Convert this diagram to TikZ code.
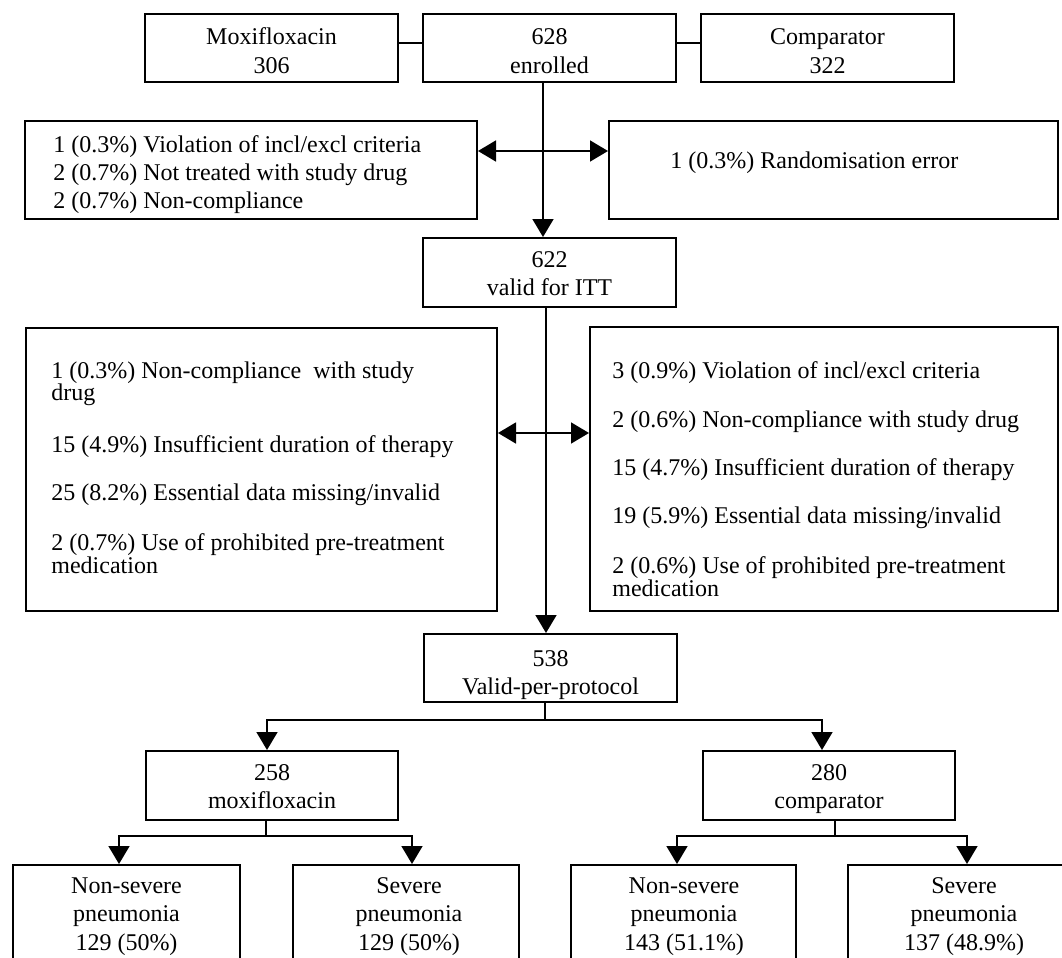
\documentclass[tikz,border=0pt]{standalone}
\usepackage{fontspec}
\setmainfont{Liberation Serif}
\usetikzlibrary{fit,arrows.meta,calc}
\tikzset{
  box/.style={draw, line width=1pt, inner sep=0pt},
  txt/.style={inner sep=0pt, font=\fontsize{12}{14}\selectfont},
  ln/.style={line width=0.8pt},
  arr/.style={line width=0.8pt, -{Triangle[length=9pt,width=10.5pt]}},
  both/.style={line width=0.8pt, {Triangle[length=9pt,width=10.5pt]}-{Triangle[length=9pt,width=10.5pt]}}
}
\begin{document}
\begin{tikzpicture}[x=0.5pt,y=-0.5pt]
\useasboundingbox (0,0) rectangle (1062,958);

% top row
\node[box, fit={(145,14) (398,82)}] (moxi) {};
\node[txt, anchor=base] (moxiA) at (271.5,45) {Moxifloxacin};
\node[txt, anchor=base] (moxiB) at (271.5,73) {306};
\node[box, fit={(423,14) (676,82)}] (enr) {};
\node[txt, anchor=base] (enrA) at (549.5,45) {628};
\node[txt, anchor=base] (enrB) at (549.5,73) {enrolled};
\node[box, fit={(701,14) (954,82)}] (comp) {};
\node[txt, anchor=base] (compA) at (827.5,45) {Comparator};
\node[txt, anchor=base] (compB1) at (827.5,73) {322};

% first exclusions
\node[box, fit={(25,121) (477,219)}] (exA) {};
\node[txt, anchor=base west] (exA1) at (53,152) {1 (0.3\%) Violation of incl/excl criteria};
\node[txt, anchor=base west] (exA2) at (53,180) {2 (0.7\%) Not treated with study drug};
\node[txt, anchor=base west] (exA3) at (53,208) {2 (0.7\%) Non-compliance};
\node[box, fit={(609,121) (1058,219)}] (rand) {};
\node[txt, anchor=base west] (rand1) at (670,168) {1 (0.3\%) Randomisation error};

% ITT
\node[box, fit={(423,238) (676,307)}] (itt) {};
\node[txt, anchor=base] (ittA) at (549.5,267) {622};
\node[txt, anchor=base] (ittB) at (549.5,295) {valid for ITT};

% second exclusions
\node[box, fit={(26,328) (497,611)}] (exB) {};
\node[txt, anchor=base west] (exB1) at (51,378) {1 (0.3\%) Non-compliance~ with study};
\node[txt, anchor=base west] (exB2) at (51,400) {drug};
\node[txt, anchor=base west] (exB3) at (51,452) {15 (4.9\%) Insufficient duration of therapy};
\node[txt, anchor=base west] (exB4) at (51,500) {25 (8.2\%) Essential data missing/invalid};
\node[txt, anchor=base west] (exB5) at (51,550) {2 (0.7\%) Use of prohibited pre-treatment};
\node[txt, anchor=base west] (exB6) at (51,573) {medication};
\node[box, fit={(590,327) (1058,611)}] (exC) {};
\node[txt, anchor=base west] (exC1) at (612,378) {3 (0.9\%) Violation of incl/excl criteria};
\node[txt, anchor=base west] (exC2) at (612,427) {2 (0.6\%) Non-compliance with study drug};
\node[txt, anchor=base west] (exC3) at (612,475) {15 (4.7\%) Insufficient duration of therapy};
\node[txt, anchor=base west] (exC4) at (612,523) {19 (5.9\%) Essential data missing/invalid};
\node[txt, anchor=base west] (exC5) at (612,573) {2 (0.6\%) Use of prohibited pre-treatment};
\node[txt, anchor=base west] (exC6) at (612,596) {medication};

% per protocol
\node[box, fit={(424,634) (677,702)}] (pp) {};
\node[txt, anchor=base] (ppA) at (550.5,666) {538};
\node[txt, anchor=base] (ppB) at (550.5,694) {Valid-per-protocol};

% arms
\node[box, fit={(146,751) (398,820)}] (moxB) {};
\node[txt, anchor=base] (moxBA) at (272,780) {258};
\node[txt, anchor=base] (moxBB) at (272,808) {moxifloxacin};
\node[box, fit={(703,751) (955,820)}] (cmpB) {};
\node[txt, anchor=base] (cmpBA) at (829,780) {280};
\node[txt, anchor=base] (cmpBB) at (829,808) {comparator};

% severity
\node[box, fit={(13,865) (240,985)}] (b1) {};
\node[txt, anchor=base] (b1A) at (126.5,893) {Non-severe};
\node[txt, anchor=base] (b1B) at (126.5,921) {pneumonia};
\node[txt, anchor=base] (b1C) at (126.5,950) {129 (50\%)};
\node[box, fit={(293,865) (519,985)}] (b2) {};
\node[txt, anchor=base] (b2A) at (409,893) {Severe};
\node[txt, anchor=base] (b2B) at (409,921) {pneumonia};
\node[txt, anchor=base] (b2C) at (409,950) {129 (50\%)};
\node[box, fit={(571,865) (796,985)}] (b3) {};
\node[txt, anchor=base] (b3A) at (684,893) {Non-severe};
\node[txt, anchor=base] (b3B) at (684,921) {pneumonia};
\node[txt, anchor=base] (b3C) at (684,950) {143 (51.1\%)};
\node[box, fit={(848,865) (1078,985)}] (b4) {};
\node[txt, anchor=base] (b4A) at (964,893) {Severe};
\node[txt, anchor=base] (b4B) at (964,921) {pneumonia};
\node[txt, anchor=base] (b4C) at (964,950) {137 (48.9\%)};

% helper coordinates
\coordinate (yTop) at (0,43);
\coordinate (ya) at (0,151);
\coordinate (yb) at (0,433);
\coordinate (sp1) at (543,0);
\coordinate (sp2) at (546,0);
\coordinate (j1) at (545,720);
\coordinate (j2) at (266,836);
\coordinate (j3) at (835,836);

% connectors
\draw[ln] (moxi.east |- yTop) -- (enr.west |- yTop);
\draw[ln] (enr.east |- yTop) -- (comp.west |- yTop);
\draw[arr] (enr.south -| sp1) -- (itt.north -| sp1);
\draw[both] (exA.east |- ya) -- (rand.west |- ya);
\draw[arr] (itt.south -| sp2) -- (pp.north -| sp2);
\draw[both] (exB.east |- yb) -- (exC.west |- yb);
\draw[ln] (pp.south -| j1) -- (j1);
\draw[arr] (j1) -| ([xshift=-2.5pt]moxB.north);
\draw[arr] (j1) -| ([xshift=-3.5pt]cmpB.north);
\draw[ln] (moxB.south -| j2) -- (j2);
\draw[arr] (j2) -| ([xshift=-3.75pt]b1.north);
\draw[arr] (j2) -| ([xshift=3pt]b2.north);
\draw[ln] (cmpB.south -| j3) -- (j3);
\draw[arr] (j3) -| ([xshift=-3.25pt]b3.north);
\draw[arr] (j3) -| ([xshift=2pt]b4.north);
\end{tikzpicture}
\end{document}
